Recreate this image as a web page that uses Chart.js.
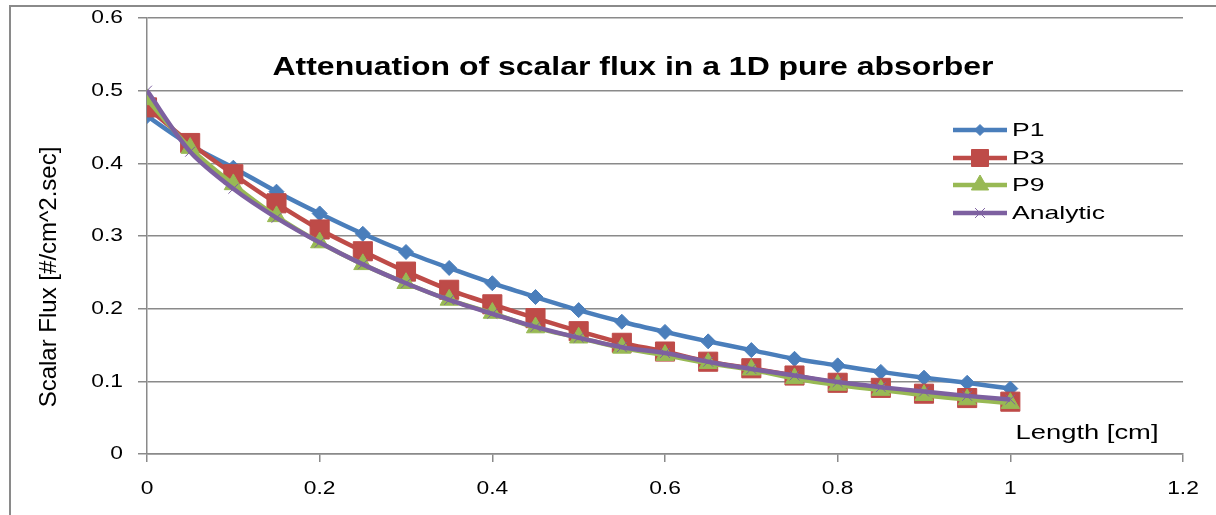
<!DOCTYPE html>
<html>
<head>
<meta charset="utf-8">
<script src="https://cdn.jsdelivr.net/npm/chart.js@4/dist/chart.umd.min.js"></script>
<style>
  html, body { margin: 0; padding: 0; background: #fff; }
  #wrap { width: 1216px; height: 515px; position: relative; }
</style>
</head>
<body>
<div id="wrap"><canvas id="fluxChart" width="1216" height="515"></canvas></div>
<script>
// Scalar flux vs depth, P-N approximations against the analytic solution
const lengths = [0, 0.05, 0.1, 0.15, 0.2, 0.25, 0.3, 0.35, 0.4, 0.45, 0.5,
                 0.55, 0.6, 0.65, 0.7, 0.75, 0.8, 0.85, 0.9, 0.95, 1.0];

const p1 = [0.465, 0.425, 0.394, 0.361, 0.331, 0.303, 0.278, 0.256, 0.235, 0.216, 0.198,
            0.182, 0.168, 0.155, 0.143, 0.131, 0.122, 0.113, 0.105, 0.098, 0.090];
const p3 = [0.477, 0.428, 0.385, 0.345, 0.309, 0.279, 0.251, 0.226, 0.206, 0.187, 0.169,
            0.153, 0.141, 0.127, 0.118, 0.108, 0.098, 0.091, 0.083, 0.077, 0.072];
const p9 = [0.488, 0.421, 0.371, 0.327, 0.291, 0.261, 0.235, 0.212, 0.194, 0.174, 0.160,
            0.146, 0.136, 0.125, 0.116, 0.104, 0.095, 0.088, 0.081, 0.075, 0.070];
const analytic = [0.500, 0.416, 0.365, 0.325, 0.291, 0.261, 0.235, 0.212, 0.193, 0.175, 0.160,
                  0.147, 0.139, 0.127, 0.117, 0.108, 0.099, 0.092, 0.086, 0.080, 0.075];

const seriesNames = ['P1', 'P3', 'P9', 'Analytic'];
const xTickLabels = ['0', '0.2', '0.4', '0.6', '0.8', '1', '1.2'];
const yTickLabels = ['0', '0.1', '0.2', '0.3', '0.4', '0.5', '0.6'];

const chartTitle = 'Attenuation of scalar flux in a 1D pure absorber';
const xTitle = 'Length [cm]';
const yTitle = 'Scalar Flux [#/cm^2.sec]';

const FONT = "'Liberation Sans', Arial, sans-serif";
const GRID = '#8a8a8a';

function toPoints(values) {
    return values.map((v, i) => ({ x: lengths[i], y: v }));
}

function makeSeries(name, values, color, style, radius, order, extra) {
    return Object.assign({
        label: name,
        data: toPoints(values),
        borderColor: color,
        backgroundColor: color,
        pointBackgroundColor: color,
        pointBorderColor: color,
        pointStyle: style,
        pointRadius: radius,
        pointBorderWidth: 1,
        borderWidth: 4.5,
        tension: 0.3,
        fill: false,
        order: order
    }, extra || {});
}

// text drawn a bit wider than the font's natural width
function wideText(ctx, text, x, y, font, sx, align) {
    ctx.save();
    ctx.font = font;
    ctx.textAlign = align || 'center';
    ctx.textBaseline = 'middle';
    ctx.translate(x, y);
    ctx.scale(sx, 1);
    ctx.fillText(text, 0, 0);
    ctx.restore();
}

// same, but stretched to fill a given width
function fitText(ctx, text, x, y, font, width, align) {
    ctx.save();
    ctx.font = font;
    const sx = width / ctx.measureText(text).width;
    ctx.restore();
    wideText(ctx, text, x, y, font, sx, align);
}

// Title, tick labels, axis titles, legend and the outer frame
const decorations = {
    id: 'decorations',
    beforeDraw(chart) {
        const ctx = chart.ctx;
        ctx.save();
        ctx.strokeStyle = GRID;
        ctx.lineWidth = 2;
        ctx.strokeRect(10, 6, 1230, 530);
        ctx.restore();
    },
    afterDraw(chart) {
        const ctx = chart.ctx;
        const xs = chart.scales.x;
        const ys = chart.scales.y;
        ctx.save();
        ctx.fillStyle = '#000';

        // tick labels from the scales' own ticks
        const tickFont = '19px ' + FONT;
        ys.ticks.forEach((t) => {
            const label = yTickLabels[Math.round(t.value / 0.1)];
            wideText(ctx, label, 123, ys.getPixelForValue(t.value), tickFont, 1.2, 'right');
        });
        xs.ticks.forEach((t) => {
            const label = xTickLabels[Math.round(t.value / 0.2)];
            wideText(ctx, label, xs.getPixelForValue(t.value), 489, tickFont, 1.2, 'center');
        });

        fitText(ctx, chartTitle, 633, 68, 'bold 26px ' + FONT, 721, 'center');
        fitText(ctx, xTitle, 1087, 433, '20px ' + FONT, 143, 'center');

        ctx.save();
        ctx.translate(49, 277);
        ctx.rotate(-Math.PI / 2);
        ctx.font = '24px ' + FONT;
        ctx.textAlign = 'center';
        ctx.textBaseline = 'middle';
        ctx.fillText(yTitle, 0, 0);
        ctx.restore();

        // legend
        const rowY = [130, 158, 185, 213];
        const legendFont = '19px ' + FONT;
        ctx.font = legendFont;
        const legendScale = 93 / ctx.measureText('Analytic').width;
        chart.data.datasets.forEach((ds, i) => {
            const y = rowY[i];
            ctx.strokeStyle = ds.borderColor;
            ctx.lineWidth = 4.5;
            ctx.beginPath();
            ctx.moveTo(953, y);
            ctx.lineTo(1007, y);
            ctx.stroke();
            ctx.fillStyle = ds.pointBackgroundColor;
            ctx.strokeStyle = ds.pointBorderColor;
            ctx.lineWidth = ds.pointBorderWidth;
            Chart.helpers.drawPoint(ctx, {
                pointStyle: ds.pointStyle,
                radius: ds.legendRadius,
                borderWidth: ds.pointBorderWidth,
                rotation: 0
            }, 980, y);
            ctx.fillStyle = '#000';
            wideText(ctx, ds.label, 1012, y + 1, legendFont, legendScale, 'left');
        });
        ctx.restore();
    }
};

const ctx = document.getElementById('fluxChart').getContext('2d');
new Chart(ctx, {
    type: 'line',
    data: {
        datasets: [
            makeSeries(seriesNames[0], p1, '#4a7ebb', 'rectRot', 7.5, 3, { legendRadius: 5.5 }),
            makeSeries(seriesNames[1], p3, '#be4b48', 'rect', 13.5, 2, { legendRadius: 12 }),
            makeSeries(seriesNames[2], p9, '#98b954', 'triangle', 10.5, 1, { legendRadius: 10 }),
            makeSeries(seriesNames[3], analytic, '#7d60a0', 'crossRot', 7, 0, { legendRadius: 7 })
        ]
    },
    options: {
        responsive: false,
        animation: false,
        devicePixelRatio: 1,
        layout: { padding: { top: 18, right: 33, bottom: 0, left: 0 } },
        plugins: {
            legend: { display: false },
            tooltip: { enabled: false },
            title: { display: false }
        },
        scales: {
            x: {
                type: 'linear',
                min: 0,
                max: 1.2,
                ticks: { stepSize: 0.2, display: false },
                grid: {
                    color: 'rgba(0,0,0,0)',
                    tickColor: GRID,
                    tickLength: 8,
                    lineWidth: 1.5
                },
                border: { color: GRID, width: 1.5 },
                afterFit: (scale) => { scale.height = 61; }
            },
            y: {
                min: 0,
                max: 0.6,
                ticks: { stepSize: 0.1, display: false },
                grid: {
                    color: GRID,
                    tickColor: GRID,
                    tickLength: 9,
                    lineWidth: 1.5
                },
                border: { color: GRID, width: 1.5 },
                afterFit: (scale) => { scale.width = 147; }
            }
        }
    },
    plugins: [decorations]
});
</script>
</body>
</html>
